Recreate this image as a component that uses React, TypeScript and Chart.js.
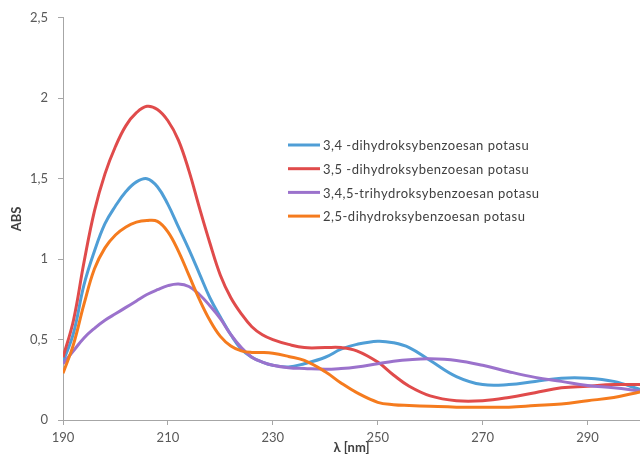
import React, { useEffect, useRef } from "react";
import { Chart, registerables } from "chart.js";

Chart.register(...registerables);

const wavelengths = [190, 192, 194, 196, 198, 200, 202, 204, 206, 208, 210, 212, 214, 216, 218, 220, 222, 224, 226, 228, 230, 233, 236, 240, 243, 246, 250, 253, 256, 260, 265, 270, 275, 280, 285, 290, 295, 300];

const seriesLabels = [
  "3,4 -dihydroksybenzoesan potasu",
  "3,5 -dihydroksybenzoesan potasu",
  "3,4,5-trihydroksybenzoesan potasu",
  "2,5-dihydroksybenzoesan potasu",
];
const seriesColors = ["#4f9ed6", "#e04b4b", "#9b72cc", "#f57b1e"];

const dihydroxy34 = [0.36, 0.54, 0.84, 1.05, 1.22, 1.33, 1.42, 1.48, 1.5, 1.45, 1.34, 1.2, 1.06, 0.91, 0.76, 0.64, 0.53, 0.44, 0.39, 0.36, 0.34, 0.33, 0.35, 0.39, 0.44, 0.47, 0.49, 0.48, 0.45, 0.37, 0.27, 0.22, 0.22, 0.24, 0.26, 0.26, 0.24, 0.19];
const dihydroxy35 = [0.39, 0.62, 0.98, 1.3, 1.53, 1.7, 1.83, 1.91, 1.95, 1.93, 1.86, 1.74, 1.55, 1.32, 1.1, 0.9, 0.76, 0.66, 0.58, 0.53, 0.5, 0.47, 0.45, 0.45, 0.45, 0.43, 0.36, 0.28, 0.21, 0.15, 0.12, 0.12, 0.14, 0.17, 0.2, 0.21, 0.22, 0.22];
const trihydroxy345 = [0.35, 0.43, 0.51, 0.57, 0.62, 0.66, 0.7, 0.74, 0.78, 0.81, 0.835, 0.845, 0.83, 0.78, 0.71, 0.63, 0.53, 0.45, 0.39, 0.36, 0.34, 0.325, 0.32, 0.315, 0.32, 0.33, 0.35, 0.365, 0.375, 0.38, 0.37, 0.34, 0.3, 0.265, 0.24, 0.215, 0.2, 0.18];
const dihydroxy25 = [0.29, 0.47, 0.72, 0.94, 1.07, 1.15, 1.2, 1.23, 1.24, 1.235, 1.17, 1.05, 0.9, 0.75, 0.62, 0.52, 0.46, 0.43, 0.42, 0.42, 0.415, 0.395, 0.37, 0.3, 0.23, 0.17, 0.11, 0.095, 0.09, 0.085, 0.08, 0.08, 0.08, 0.09, 0.1, 0.12, 0.14, 0.175];

const xTickValues = [190, 210, 230, 250, 270, 290];
const yTickValues = [0, 0.5, 1, 1.5, 2, 2.5];
const yTickLabels = ["0", "0,5", "1", "1,5", "2", "2,5"];

const FONT = "Lato, 'Open Sans', sans-serif";

const legendPlugin = {
  id: "insideLegend",
  afterDraw(chart: any) {
    const ctx = chart.ctx;
    ctx.save();
    const x0 = 288;
    const y0 = 145;
    const step = 23.7;
    seriesLabels.forEach((label, i) => {
      const y = y0 + i * step;
      ctx.strokeStyle = seriesColors[i];
      ctx.lineWidth = 3;
      ctx.beginPath();
      ctx.moveTo(x0, y);
      ctx.lineTo(x0 + 32, y);
      ctx.stroke();
      ctx.fillStyle = "#404040";
      ctx.font = `13px ${FONT}`;
      try { (ctx as any).letterSpacing = "0.5px"; } catch (e) {}
      ctx.textBaseline = "middle";
      ctx.textAlign = "left";
      ctx.fillText(label, x0 + 35, y + 1);
    });
    ctx.restore();
  },
};

export default function App() {
  const ref = useRef<HTMLCanvasElement | null>(null);
  useEffect(() => {
    if (!ref.current) return;
    const series = [dihydroxy34, dihydroxy35, trihydroxy345, dihydroxy25];
    const orders = [3, 2, 1, 0];
    const chart = new Chart(ref.current, {
      type: "line",
      data: {
        datasets: series.map((arr, i) => ({
          label: seriesLabels[i],
          data: wavelengths.map((x, j) => ({ x, y: arr[j] })),
          borderColor: seriesColors[i],
          backgroundColor: seriesColors[i],
          borderWidth: 3,
          pointRadius: 0,
          tension: 0.4,
          order: orders[i],
        })),
      },
      options: {
        animation: false,
        responsive: false,
        layout: { padding: { top: 16, right: 0, left: 0, bottom: 0 } },
        plugins: { legend: { display: false }, tooltip: { enabled: false } },
        scales: {
          x: {
            type: "linear",
            min: 190,
            max: 300,
            afterBuildTicks: (scale: any) => {
              scale.ticks = xTickValues.map((v) => ({ value: v }));
            },
            afterFit: (scale: any) => {
              scale.height = 36;
            },
            grid: { drawOnChartArea: false, tickLength: 5, color: "#a6a6a6" },
            border: { color: "#a6a6a6", width: 1 },
            ticks: {
              padding: 5,
              color: "#595959",
              font: { family: FONT, size: 13 },
              maxRotation: 0,
              autoSkip: false,
            },
            title: {
              display: true,
              text: "λ [nm]",
              color: "#404040",
              font: { family: FONT, size: 13, weight: "bold" },
              padding: { top: 0, bottom: 0 },
            },
          },
          y: {
            type: "linear",
            min: 0,
            max: 2.5,
            afterBuildTicks: (scale: any) => {
              scale.ticks = yTickValues.map((v) => ({ value: v }));
            },
            afterFit: (scale: any) => {
              scale.width = 63;
            },
            grid: { drawOnChartArea: false, tickLength: 5, color: "#a6a6a6" },
            border: { color: "#a6a6a6", width: 1 },
            ticks: {
              padding: 10,
              color: "#595959",
              font: { family: FONT, size: 13 },
              callback: (_v: any, i: number) => yTickLabels[i],
            },
            title: {
              display: true,
              text: "ABS",
              color: "#404040",
              font: { family: FONT, size: 13, weight: "bold" },
              padding: { top: 9, bottom: 0 },
            },
          },
        },
      },
      plugins: [legendPlugin],
    } as any);
    return () => chart.destroy();
  }, []);
  return (
    <div style={{ position: "fixed", left: 0, top: 0, width: 640, height: 456, background: "#fff" }}>
      <canvas ref={ref} width={640} height={456} />
    </div>
  );
}
